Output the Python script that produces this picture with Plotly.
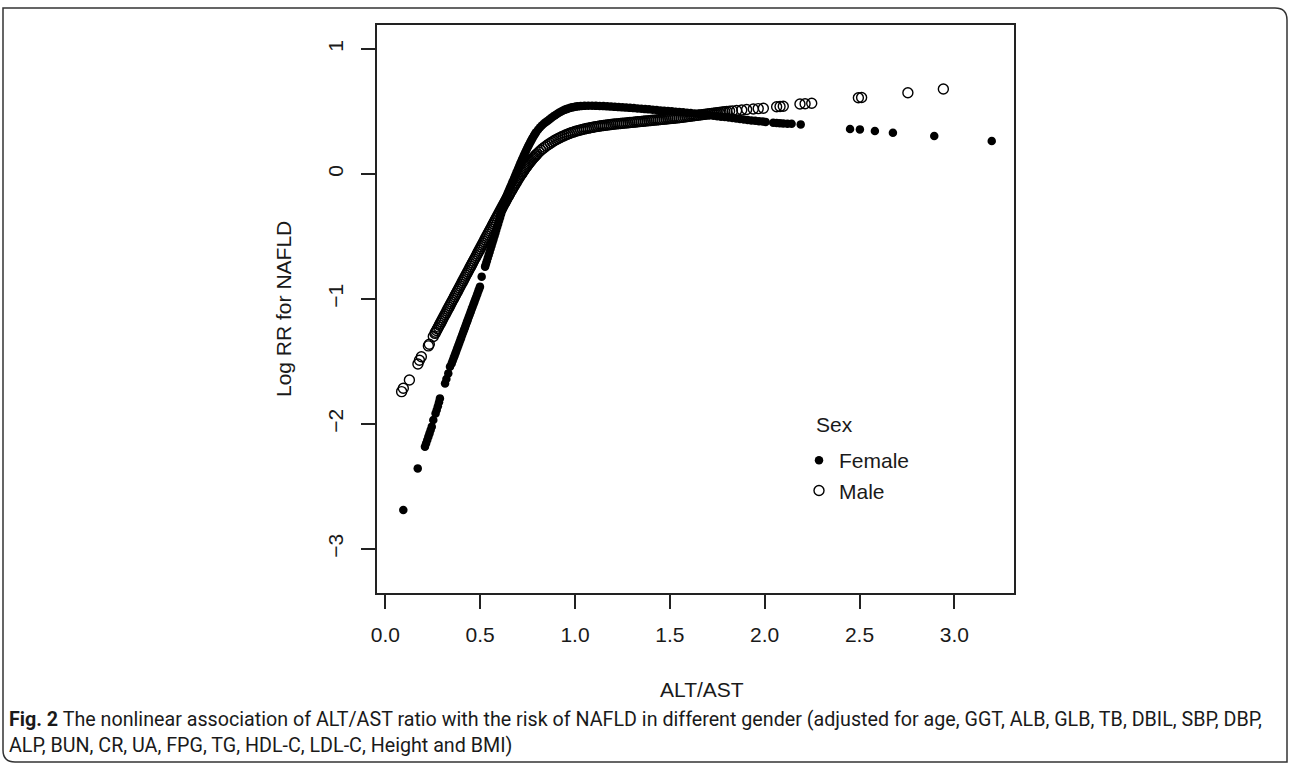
import plotly.graph_objects as go

# ---------------- data ----------------
female_x = [0.095, 0.171,
            0.209, 0.215, 0.221, 0.227, 0.233, 0.239, 0.245, 0.253,
            0.265, 0.271, 0.277, 0.283, 0.288, 0.315, 0.322, 0.332, 0.341,
            0.350, 0.355, 0.360, 0.365, 0.370, 0.375, 0.380, 0.385, 0.390, 0.395,
            0.400, 0.405, 0.410, 0.415, 0.420, 0.425, 0.430, 0.435, 0.440, 0.445,
            0.450, 0.455, 0.460, 0.465, 0.470, 0.475, 0.480, 0.485, 0.490, 0.495,
            0.499, 0.508,
            0.526, 0.530, 0.535, 0.540, 0.545, 0.550, 0.555, 0.560, 0.565, 0.570,
            0.575, 0.580, 0.585, 0.590, 0.595, 0.600, 0.605, 0.610, 0.615, 0.620,
            0.625, 0.630, 0.635, 0.640, 0.645, 0.650, 0.655, 0.660, 0.665, 0.670,
            0.675, 0.680, 0.685, 0.690, 0.695, 0.700, 0.705, 0.710, 0.715, 0.720,
            0.725, 0.730, 0.735, 0.740, 0.745, 0.750, 0.755, 0.760, 0.765, 0.770,
            0.775, 0.780, 0.785, 0.790, 0.795,
            0.805, 0.815, 0.825, 0.835, 0.845, 0.855, 0.865, 0.875, 0.885, 0.895,
            0.905, 0.915, 0.925, 0.935, 0.945, 0.955, 0.965, 0.975, 0.985, 0.995,
            1.005, 1.015,
            1.03, 1.05, 1.07, 1.09, 1.11, 1.13, 1.15, 1.17, 1.19, 1.21, 1.23, 1.25,
            1.27, 1.29, 1.31, 1.33, 1.35, 1.37, 1.39, 1.41, 1.43, 1.45, 1.47, 1.49,
            1.51, 1.53, 1.55, 1.57, 1.59, 1.61, 1.63, 1.65, 1.67, 1.69, 1.71, 1.73,
            1.75, 1.77, 1.79, 1.81, 1.83, 1.85, 1.87, 1.89, 1.91, 1.93, 1.95, 1.97,
            1.99, 2.005,
            2.045, 2.063, 2.08, 2.098, 2.12, 2.142, 2.19,
            2.45, 2.502, 2.581, 2.676, 2.894, 3.197]
female_y = [-2.688, -2.355,
            -2.181, -2.155, -2.128, -2.101, -2.075, -2.048, -2.021, -1.968,
            -1.915, -1.888, -1.858, -1.826, -1.795, -1.675, -1.640, -1.595, -1.541,
            -1.515, -1.494, -1.474, -1.453, -1.433, -1.412, -1.391, -1.371, -1.350, -1.330,
            -1.309, -1.288, -1.268, -1.247, -1.227, -1.206, -1.185, -1.165, -1.144, -1.124,
            -1.103, -1.082, -1.062, -1.041, -1.021, -1.000, -0.980, -0.959, -0.938, -0.918,
            -0.901, -0.821,
            -0.741, -0.722, -0.697, -0.672, -0.648, -0.623, -0.598, -0.573, -0.548, -0.523,
            -0.498, -0.473, -0.448, -0.422, -0.397, -0.372, -0.347, -0.321, -0.296, -0.271,
            -0.246, -0.221, -0.196, -0.175, -0.155, -0.137, -0.119, -0.102, -0.085, -0.066,
            -0.048, -0.030, -0.012, 0.006, 0.024, 0.042, 0.060, 0.078, 0.095, 0.113,
            0.130, 0.147, 0.164, 0.180, 0.196, 0.212, 0.227, 0.242, 0.257, 0.271,
            0.285, 0.298, 0.311, 0.323, 0.334,
            0.354, 0.372, 0.388, 0.402, 0.414, 0.425, 0.437, 0.449, 0.460, 0.470,
            0.480, 0.490, 0.498, 0.506, 0.513, 0.519, 0.524, 0.529, 0.533, 0.536,
            0.539, 0.541,
            0.543, 0.545, 0.546, 0.546, 0.545, 0.544, 0.543, 0.541, 0.539, 0.537, 0.535, 0.533,
            0.531, 0.529, 0.527, 0.524, 0.522, 0.519, 0.517, 0.514, 0.512, 0.509, 0.507, 0.504,
            0.502, 0.499, 0.497, 0.494, 0.491, 0.488, 0.485, 0.482, 0.478, 0.474, 0.470, 0.466,
            0.462, 0.459, 0.456, 0.453, 0.449, 0.445, 0.440, 0.436, 0.432, 0.429, 0.426, 0.423,
            0.420, 0.417,
            0.410, 0.408, 0.407, 0.405, 0.403, 0.402, 0.397,
            0.360, 0.357, 0.344, 0.330, 0.304, 0.264]

male_x = [0.086, 0.095, 0.127, 0.172, 0.180, 0.190, 0.227, 0.232, 0.253,
          0.262, 0.265, 0.270, 0.275, 0.280, 0.285, 0.290, 0.295, 0.300, 0.305,
          0.310, 0.315, 0.320, 0.325, 0.330, 0.335, 0.340, 0.345, 0.350, 0.355,
          0.360, 0.365, 0.370, 0.375, 0.380, 0.385, 0.390, 0.395, 0.400, 0.405,
          0.410, 0.415, 0.420, 0.425, 0.430, 0.435, 0.440, 0.445, 0.450, 0.455,
          0.460, 0.465, 0.470, 0.475, 0.480, 0.485, 0.490, 0.495, 0.500, 0.505,
          0.510, 0.515, 0.520, 0.525, 0.530, 0.535, 0.540, 0.545, 0.550, 0.555,
          0.560, 0.565, 0.570, 0.575, 0.580, 0.585, 0.590, 0.595, 0.600, 0.605,
          0.610, 0.615, 0.620, 0.625, 0.630, 0.635, 0.640, 0.645, 0.650, 0.655,
          0.660, 0.665, 0.670, 0.675, 0.680, 0.685, 0.690, 0.695, 0.700, 0.705,
          0.710, 0.715, 0.720, 0.725, 0.730, 0.735, 0.740, 0.745, 0.750, 0.755,
          0.760, 0.765, 0.770, 0.775, 0.780, 0.785, 0.790, 0.795, 0.800,
          0.81, 0.82, 0.83, 0.84, 0.85,
          0.86, 0.87, 0.88, 0.89, 0.90, 0.91, 0.92, 0.93, 0.94, 0.95,
          0.96, 0.97, 0.98, 0.99, 1.00, 1.01, 1.02, 1.03, 1.04, 1.05,
          1.06, 1.07, 1.08, 1.09, 1.10, 1.11, 1.12, 1.13, 1.14, 1.15,
          1.16, 1.17, 1.18, 1.19, 1.20, 1.21, 1.22, 1.23, 1.24, 1.25,
          1.26, 1.27, 1.28, 1.29, 1.30, 1.31, 1.32, 1.33, 1.34, 1.35,
          1.36, 1.37, 1.38, 1.39, 1.40, 1.41, 1.42, 1.43, 1.44, 1.45,
          1.46, 1.47, 1.48, 1.49, 1.50, 1.51, 1.52, 1.53, 1.54, 1.55,
          1.56, 1.57, 1.58, 1.59, 1.60, 1.61, 1.62, 1.63, 1.64, 1.65,
          1.66, 1.67, 1.68, 1.69, 1.70, 1.71, 1.72, 1.73, 1.74, 1.75,
          1.76, 1.77, 1.78, 1.79, 1.80,
          1.815, 1.83, 1.852, 1.879, 1.905, 1.94, 1.966, 1.993,
          2.063, 2.081, 2.098, 2.186, 2.213, 2.248, 2.494, 2.511, 2.755, 2.942]
male_y = [-1.741, -1.714, -1.648, -1.520, -1.490, -1.462, -1.375, -1.362, -1.300,
          -1.275, -1.266, -1.252, -1.238, -1.224, -1.209, -1.195, -1.181, -1.167, -1.152,
          -1.138, -1.124, -1.110, -1.095, -1.081, -1.067, -1.053, -1.038, -1.024, -1.010,
          -0.996, -0.981, -0.967, -0.953, -0.939, -0.924, -0.910, -0.896, -0.882, -0.867,
          -0.853, -0.839, -0.825, -0.810, -0.796, -0.782, -0.768, -0.753, -0.739, -0.725,
          -0.711, -0.696, -0.682, -0.668, -0.654, -0.639, -0.625, -0.611, -0.597, -0.582,
          -0.568, -0.554, -0.540, -0.525, -0.511, -0.497, -0.483, -0.468, -0.454, -0.440,
          -0.426, -0.411, -0.397, -0.383, -0.369, -0.354, -0.340, -0.326, -0.312, -0.298,
          -0.284, -0.270, -0.256, -0.242, -0.228, -0.214, -0.200, -0.186, -0.173, -0.159,
          -0.146, -0.132, -0.119, -0.106, -0.093, -0.080, -0.067, -0.054, -0.042, -0.030,
          -0.018, -0.006, 0.005, 0.016, 0.028, 0.039, 0.050, 0.060, 0.071, 0.081,
          0.091, 0.100, 0.110, 0.119, 0.128, 0.136, 0.145, 0.153, 0.161,
          0.176, 0.190, 0.203, 0.215, 0.226,
          0.237, 0.247, 0.257, 0.266, 0.275, 0.283, 0.291, 0.298, 0.305, 0.312,
          0.318, 0.324, 0.330, 0.335, 0.340, 0.345, 0.349, 0.353, 0.357, 0.361,
          0.364, 0.367, 0.370, 0.373, 0.376, 0.379, 0.381, 0.384, 0.386, 0.388,
          0.390, 0.392, 0.394, 0.396, 0.398, 0.400, 0.401, 0.403, 0.404, 0.406,
          0.407, 0.409, 0.410, 0.412, 0.413, 0.415, 0.416, 0.418, 0.419, 0.421,
          0.422, 0.424, 0.425, 0.427, 0.428, 0.430, 0.431, 0.433, 0.434, 0.436,
          0.437, 0.439, 0.440, 0.442, 0.443, 0.445, 0.446, 0.448, 0.449, 0.451,
          0.453, 0.455, 0.457, 0.459, 0.461, 0.463, 0.465, 0.467, 0.469, 0.471,
          0.473, 0.475, 0.477, 0.479, 0.481, 0.483, 0.485, 0.487, 0.489, 0.491,
          0.493, 0.495, 0.497, 0.499, 0.501,
          0.503, 0.505, 0.508, 0.512, 0.516, 0.520, 0.523, 0.526,
          0.538, 0.540, 0.542, 0.560, 0.562, 0.566, 0.610, 0.612, 0.650, 0.680]

x_ticks = [0.0, 0.5, 1.0, 1.5, 2.0, 2.5, 3.0]
y_ticks = [-3, -2, -1, 0, 1]

series_names = ["Female", "Male"]
legend_title = "Sex"
x_title = "ALT/AST"
y_title = "Log RR for NAFLD"
caption = ("<b>Fig. 2</b> The nonlinear association of ALT/AST ratio with the risk of NAFLD in "
           "different gender (adjusted for age, GGT, ALB, GLB, TB, DBIL, SBP, DBP,<br>"
           "ALP, BUN, CR, UA, FPG, TG, HDL-C, LDL-C, Height and BMI)")

# ---------------- layout geometry (pixels) ----------------
W, H = 1290, 770
L, R, T, B = 377, 1014, 25, 593


def px(x):
    return (x - L) / (R - L)


def py(y):
    return (B - y) / (B - T)


AX_FONT = "Liberation Sans, Arial, Helvetica, sans-serif"
INK = "#1a1a1a"

fig = go.Figure()
fig.add_trace(go.Scatter(
    x=female_x, y=female_y, mode="markers", name=series_names[0],
    marker=dict(symbol="circle", size=8.5, color="black", line=dict(width=0)),
))
fig.add_trace(go.Scatter(
    x=male_x, y=male_y, mode="markers", name=series_names[1],
    marker=dict(symbol="circle-open", size=10, color="black", line=dict(width=1.4, color="black")),
))

axis_common = dict(
    showgrid=False, zeroline=False, showline=True, mirror=True,
    linecolor="#222", linewidth=1.5,
    ticks="outside", ticklen=14, tickwidth=1.5, tickcolor="#222",
    tickfont=dict(family=AX_FONT, size=21, color=INK),
)
fig.update_xaxes(range=[-0.0438, 3.3144], tickvals=x_ticks, tickformat=".1f",
                 ticklabelstandoff=8, **axis_common)
fig.update_yaxes(range=[-3.352, 1.192], tickvals=y_ticks, tickangle=-90,
                 ticklabelstandoff=10, **axis_common)

# outer rounded frame (top-right and bottom-left corners rounded)
x0, y0, x1, y1, r = 3, 8, 1287, 762, 12
path = (f"M {px(x0)},{py(y0)} L {px(x1 - r)},{py(y0)} "
        f"Q {px(x1)},{py(y0)} {px(x1)},{py(y0 + r)} "
        f"L {px(x1)},{py(y1)} L {px(x0 + r)},{py(y1)} "
        f"Q {px(x0)},{py(y1)} {px(x0)},{py(y1 - r)} Z")

fig.update_layout(
    width=W, height=H,
    margin=dict(l=L, r=W - R, t=T, b=H - B),
    paper_bgcolor="white", plot_bgcolor="white",
    showlegend=True,
    legend=dict(x=px(799), y=py(440), xanchor="left", yanchor="top",
                bgcolor="rgba(0,0,0,0)", borderwidth=0,
                font=dict(family=AX_FONT, size=21, color=INK),
                itemsizing="trace", tracegroupgap=0),
    shapes=[dict(type="path", xref="paper", yref="paper", path=path,
                 line=dict(color="#333", width=1.5), fillcolor="rgba(0,0,0,0)", layer="below")],
    annotations=[
        dict(text=x_title, xref="paper", yref="paper", x=px(702), y=py(689),
             xanchor="center", yanchor="middle", showarrow=False,
             font=dict(family=AX_FONT, size=21, color=INK)),
        dict(text=y_title, xref="paper", yref="paper", x=px(283), y=py(309),
             xanchor="center", yanchor="middle", showarrow=False, textangle=-90,
             font=dict(family=AX_FONT, size=21, color=INK)),
        dict(text=legend_title, xref="paper", yref="paper", x=px(814), y=py(424),
             xanchor="left", yanchor="middle", showarrow=False,
             font=dict(family=AX_FONT, size=21, color=INK)),
        dict(text=caption, xref="paper", yref="paper", x=px(7), y=py(732),
             xanchor="left", yanchor="middle", align="left", showarrow=False,
             font=dict(family="Roboto, Liberation Sans, sans-serif",
                       size=19.7, color=INK)),
    ],
)

fig.write_html("out.html", config={"displayModeBar": False},
               post_script="document.body.style.margin='0px';")
